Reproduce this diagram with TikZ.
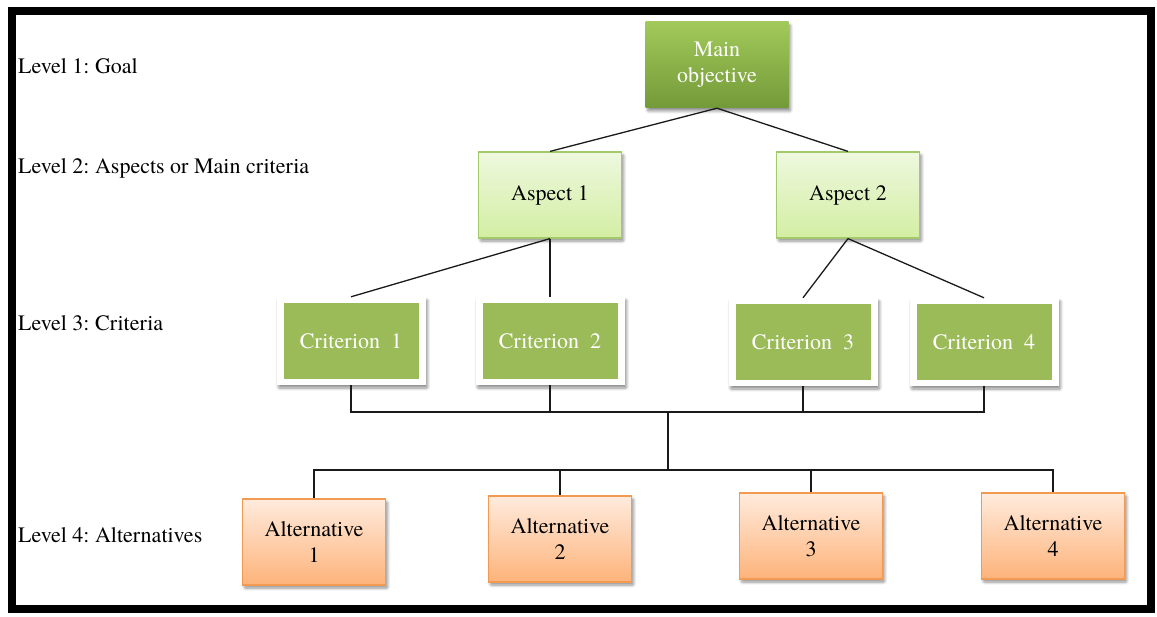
\documentclass[tikz,border=0pt]{standalone}
\usepackage{fontspec}
\setmainfont{TeX Gyre Termes}
\usetikzlibrary{shadows,shadows.blur}
\frenchspacing
\definecolor{critgreen}{HTML}{9BBB59}
\definecolor{goaltop}{HTML}{A2C95A}
\definecolor{goalbot}{HTML}{739A38}
\definecolor{asptop}{HTML}{EEF8DE}
\definecolor{aspbot}{HTML}{D3EEA3}
\definecolor{aspline}{HTML}{A3C96B}
\definecolor{alttop}{HTML}{FFEBDD}
\definecolor{altbot}{HTML}{FDB37A}
\definecolor{altline}{HTML}{F39A52}
\definecolor{linkcol}{HTML}{1A1A1A}
\begin{document}
\begin{tikzpicture}[x=1pt,y=-1pt,
  font=\fontsize{22}{26}\selectfont,
  softshadow/.style={blur shadow={shadow blur steps=6, shadow blur extra rounding=1pt,
    shadow xshift=2pt, shadow yshift=-3pt, shadow opacity=45, shadow blur radius=3pt}},
  boxbase/.style={minimum width=143pt, minimum height=86pt, inner sep=0pt, align=center, softshadow},
  goalbox/.style={boxbase, top color=goaltop, bottom color=goalbot, text=white},
  aspbox/.style={boxbase, top color=asptop, bottom color=aspbot, draw=aspline, line width=1.2pt},
  critframe/.style={minimum width=149pt, minimum height=88pt, inner sep=0pt, fill=white, softshadow},
  critbox/.style={minimum width=135pt, minimum height=76pt, inner sep=0pt, fill=critgreen, text=white},
  altbox/.style={boxbase, top color=alttop, bottom color=altbot, draw=altline, line width=1.2pt},
  levellabel/.style={anchor=west, inner sep=0pt},
  link/.style={draw=linkcol, line width=1.3pt}
]
\useasboundingbox (0,0) rectangle (1157,617);
\draw[line width=8pt] (12,11) rectangle (1151,609);

\node[levellabel] (l1) at (18,66) {Level 1: Goal};
\node[levellabel] (l2) at (18,168) {Level 2: Aspects or Main criteria};
\node[levellabel] (l3) at (18,323) {Level 3: Criteria};
\node[levellabel] (l4) at (18,535) {Level 4: Alternatives};

\node[goalbox] (goal) at (717,65) {Main\\objective};
\node[aspbox] (a1) at (550,195) {Aspect 1};
\node[aspbox] (a2) at (848,195) {Aspect 2};

\node[critframe] (f1) at (351,341) {};
\node[critframe] (f2) at (550,341) {};
\node[critframe] (f3) at (803,342) {};
\node[critframe] (f4) at (984,342) {};
\node[critbox] (c1) at (f1) {Criterion\ \ 1};
\node[critbox] (c2) at (f2) {Criterion\ \ 2};
\node[critbox] (c3) at (f3) {Criterion\ \ 3};
\node[critbox] (c4) at (f4) {Criterion\ \ 4};

\node[altbox] (t1) at (314,542) {Alternative\\1};
\node[altbox] (t2) at (560,539) {Alternative\\2};
\node[altbox] (t3) at (811,536) {Alternative\\3};
\node[altbox] (t4) at (1053,536) {Alternative\\4};

\coordinate (bus1) at (668,412);
\coordinate (bus2) at (668,470);

\draw[link] (goal.south) -- (a1.north);
\draw[link] (goal.south) -- (a2.north);
\draw[link] (a1.south) -- (f1.north);
\draw[link] (a1.south) -- (f2.north);
\draw[link] (a2.south) -- (f3.north);
\draw[link] (a2.south) -- (f4.north);

\draw[link] (f1.south) -- (f1.south |- bus1) -- (f4.south |- bus1) -- (f4.south);
\draw[link] (f2.south) -- (f2.south |- bus1);
\draw[link] (f3.south) -- (f3.south |- bus1);
\draw[link] (bus1) -- (bus2);
\draw[link] (t1.north) -- (t1.north |- bus2) -- (t4.north |- bus2) -- (t4.north);
\draw[link] (t2.north) -- (t2.north |- bus2);
\draw[link] (t3.north) -- (t3.north |- bus2);
\end{tikzpicture}
\end{document}
